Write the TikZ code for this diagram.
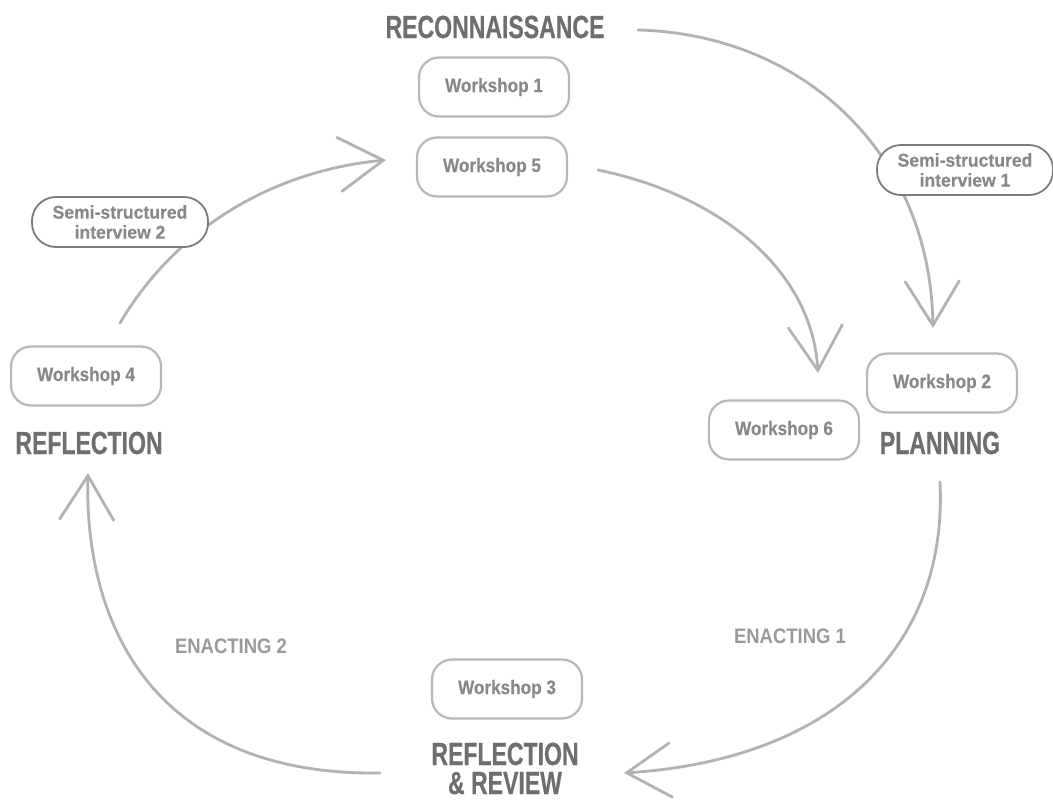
\documentclass[tikz,border=0pt]{standalone}
\usepackage{fontspec}
\usetikzlibrary{arrows.meta}
\newfontfamily\stagefont[FakeStretch=0.72,FakeBold=0.5]{Liberation Sans Bold}
\newfontfamily\actfont[FakeStretch=0.88]{Liberation Sans Bold}
\newfontfamily\boxfont[FakeStretch=0.88,FakeBold=0.3]{Liberation Sans Bold}
\newfontfamily\semifont[FakeStretch=0.95,FakeBold=0.3]{Liberation Sans Bold}
\definecolor{stagegrey}{HTML}{6E6E6E}
\definecolor{textgrey}{HTML}{888888}
\definecolor{actgrey}{HTML}{9A9A9A}
\definecolor{linegrey}{HTML}{B2B2B2}
\definecolor{boxgrey}{HTML}{B8B8B8}
\definecolor{semigrey}{HTML}{7C7C7C}
\tikzset{
  stage/.style={text=stagegrey, font=\stagefont\fontsize{32}{30.5}\selectfont, inner sep=0pt},
  act/.style={text=actgrey, font=\actfont\fontsize{21}{24}\selectfont, inner sep=0pt},
  workshop/.style={draw=boxgrey, line width=2.2pt, fill=white, rounded corners=20pt,
    minimum width=150pt, minimum height=59pt, text=textgrey,
    font=\boxfont\fontsize{19.5}{22}\selectfont},
  semi/.style={draw=semigrey, line width=1.8pt, fill=white, rounded corners=24pt,
    minimum width=176pt, minimum height=50pt, text=textgrey, align=center, inner sep=2pt,
    font=\semifont\fontsize{18.5}{20}\selectfont},
  cycle/.style={draw=linegrey, line width=2.8pt, line cap=round,
    -{Straight Barb[length=44pt, width=54pt, line cap=round]}}
}
\begin{document}
\begin{tikzpicture}[x=1pt, y=-1pt]
  \useasboundingbox[fill=white] (0,0) rectangle (1053,801);

  % stage titles
  \node[stage] (recon) at (495,27) {RECONNAISSANCE};
  \node[stage] (plan) at (940,443) {PLANNING};
  \node[stage] (refl) at (89,443) {REFLECTION};
  \node[stage, anchor=base] (review) at (505,765) {REFLECTION};
  \node[stage, anchor=base] (review2) at (505,794) {\& REVIEW};

  % action labels
  \node[act] (en1) at (790,636) {ENACTING 1};
  \node[act] (en2) at (231,646) {ENACTING 2};

  % connecting endpoints
  \coordinate (c1s) at (638,30);
  \coordinate (c1e) at (933,328);
  \coordinate (c2s) at (598,170);
  \coordinate (c2e) at (818,373);
  \coordinate (c3s) at (940,482);
  \coordinate (c3e) at (624,773);
  \coordinate (c4s) at (380,773);
  \coordinate (c4e) at (88,473);
  \coordinate (c5s) at (120,323);
  \coordinate (c5e) at (386,160);

  % cycle arrows
  \draw[cycle] (c1s) .. controls (800,34) and (930,150) .. (c1e);
  \draw[cycle] (c2s) .. controls (720,195) and (812,270) .. (c2e);
  \draw[cycle] (c3s) .. controls (948,650) and (830,760) .. (c3e);
  \draw[cycle] (c4s) .. controls (150,776) and (84,620) .. (c4e);
  \draw[cycle] (c5s) .. controls (180,222) and (280,170) .. (c5e);

  % workshops
  \node[workshop] (w1) at (494,87) {Workshop 1};
  \node[workshop] (w5) at (492,167) {Workshop 5};
  \node[workshop] (w2) at (942,383) {Workshop 2};
  \node[workshop] (w6) at (784,430) {Workshop 6};
  \node[workshop] (w4) at (86,376) {Workshop 4};
  \node[workshop] (w3) at (507,689) {Workshop 3};

  % interviews
  \node[semi] (i1) at (965,170) {Semi-structured\\interview 1};
  \node[semi] (i2) at (120,222) {Semi-structured\\interview 2};
\end{tikzpicture}
\end{document}
